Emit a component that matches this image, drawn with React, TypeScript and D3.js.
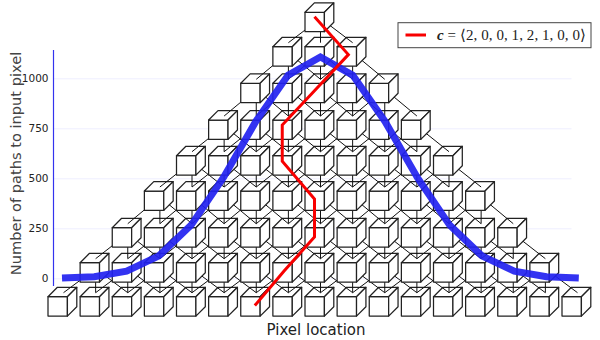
import * as d3 from 'd3';
import { useRef, useEffect } from 'react';

// values
const pixelColumns = d3.range(17);
const layers = [0, 1, 2, 3, 4, 5, 6, 7, 8];
const pathCounts = [1, 8, 36, 112, 266, 504, 784, 1016, 1107, 1016, 784, 504, 266, 112, 36, 8, 1];
const yTicks = [0, 250, 500, 750, 1000];
const childOffsets = [-1, 0, 1];
const redColumns = [8, 9.05, 8, 7, 7, 8, 8, 7.05, 6.15];
const redLayers = [8, 6.95, 5.95, 5, 4, 2.95, 1.9, 0.95, 0];
const legendParts = ['= ', '\u27E82, 0, 0, 1, 2, 1, 0, 0\u27E9'];

const width = 600;
const height = 340;
const axisFont = "'DejaVu Sans', sans-serif";

export default function App() {
  const ref = useRef<SVGSVGElement>(null);

  useEffect(() => {
    const svg = d3.select(ref.current);
    svg.selectAll('*').remove();

    // --- Scales ---
    const cubeX = d3.scaleLinear().domain([0, 16]).range([48, 562]);
    // the layers in the source drawing are not quite evenly spaced
    const cubeY = d3.scaleLinear().domain(layers).range([296.7, 262.7, 227.7, 191, 155.7, 120, 83.3, 46.7, 12.3]);
    const plotX = d3.scaleLinear().domain([0, 16]).range([62, 578.8]);
    const plotY = d3.scaleLinear().domain([0, 1000]).range([278.3, 78.3]);
    const redX = d3.scaleLinear().domain([6, 8]).range([250, 314.5]);
    const redY = d3.scaleLinear().domain([0, 8]).range([305.5, 16.7]);

    // --- Grid and axis ---
    const axis = svg.append('g').attr('transform', 'translate(53.5,0)');
    axis.call(d3.axisLeft(plotY).tickValues(yTicks).tickSize(0).tickPadding(5).tickFormat(d3.format('d')) as any);
    axis.select('.domain').remove();
    axis.selectAll('.tick text')
      .attr('font-family', axisFont)
      .attr('font-size', 10.5)
      .attr('fill', '#222');
    axis.selectAll('.tick').append('line')
      .attr('x1', 0)
      .attr('x2', 518)
      .attr('stroke', 'rgba(0,0,255,0.07)');
    svg.append('line')
      .attr('x1', 53.5)
      .attr('x2', 53.5)
      .attr('y1', 50)
      .attr('y2', 286)
      .attr('stroke', '#3333ee')
      .attr('stroke-width', 1.2);

    // --- Cube pyramid, bottom layer first so upper cubes cover the links ---
    const cubes = svg.append('g');
    const face = 19.4;
    const depth = 9.4;
    layers.forEach(layer => {
      const row = pixelColumns.filter(c => c >= layer && c <= 16 - layer);
      // links from this layer up to the layer above
      if (layer > 0) {
        row.forEach(col => {
          childOffsets.forEach(off => {
            cubes.append('line')
              .attr('x1', cubeX(col) + 15.5)
              .attr('y1', cubeY(layer) + 6)
              .attr('x2', cubeX(col + off) + 15.5)
              .attr('y2', cubeY(layer - 1) - 4)
              .attr('stroke', '#111')
              .attr('stroke-width', 1);
          });
        });
      }
      const g = cubes.append('g')
        .selectAll('g')
        .data(row)
        .join('g')
        .attr('transform', d => `translate(${cubeX(d)},${cubeY(layer)})`)
        .attr('fill', 'white')
        .attr('stroke', '#222')
        .attr('stroke-width', 1.25)
        .attr('stroke-linejoin', 'round');
      g.append('rect').attr('width', face).attr('height', face);
      g.append('path').attr('d', `M0,0L${depth},${-depth}H${face + depth}L${face},0Z`);
      g.append('path').attr('d', `M${face},0L${face + depth},${-depth}V${face - depth}L${face},${face}Z`);
    });

    // --- Series ---
    svg.append('path')
      .datum(pathCounts)
      .attr('d', d3.line<number>().x((_, i) => plotX(i)).y(d => plotY(d)) as any)
      .attr('fill', 'none')
      .attr('stroke', '#2222f0')
      .attr('stroke-opacity', 0.92)
      .attr('stroke-width', 7);

    svg.append('path')
      .datum(redColumns)
      .attr('d', d3.line<number>().x(d => redX(d)).y((_, i) => redY(redLayers[i])) as any)
      .attr('fill', 'none')
      .attr('stroke', '#f80000')
      .attr('stroke-width', 3);

    // --- Labels ---
    svg.append('text')
      .attr('x', 316)
      .attr('y', 335)
      .attr('text-anchor', 'middle')
      .attr('font-family', axisFont)
      .attr('font-size', 15)
      .attr('fill', '#222')
      .text('Pixel location');
    svg.append('text')
      .attr('transform', 'translate(21,163.5) rotate(-90)')
      .attr('text-anchor', 'middle')
      .attr('font-family', axisFont)
      .attr('font-size', 14.6)
      .attr('fill', '#444')
      .text('Number of paths to input pixel');

    // --- Legend ---
    const legend = svg.append('g');
    legend.append('rect')
      .attr('x', 398)
      .attr('y', 22.7)
      .attr('width', 193)
      .attr('height', 25)
      .attr('fill', 'white')
      .attr('stroke', '#444')
      .attr('stroke-width', 1);
    legend.append('line')
      .attr('x1', 405.5)
      .attr('x2', 426)
      .attr('y1', 35)
      .attr('y2', 35)
      .attr('stroke', '#f80000')
      .attr('stroke-width', 3);
    const label = legend.append('text')
      .attr('x', 437)
      .attr('y', 40)
      .attr('font-family', "'Liberation Serif', serif")
      .attr('font-size', 15)
      .attr('fill', '#222')
      .attr('textLength', 149)
      .attr('lengthAdjust', 'spacing');
    label.append('tspan')
      .attr('font-weight', 'bold')
      .attr('font-style', 'italic')
      .text('c ');
    label.append('tspan').text(legendParts[0]);
    label.append('tspan').text(legendParts[1]);
  }, []);

  return (
    <svg
      ref={ref}
      width={width}
      height={height}
      viewBox={`0 0 ${width} ${height}`}
      style={{ position: 'absolute', left: 0, top: 0, background: 'white' }}
    />
  );
}
